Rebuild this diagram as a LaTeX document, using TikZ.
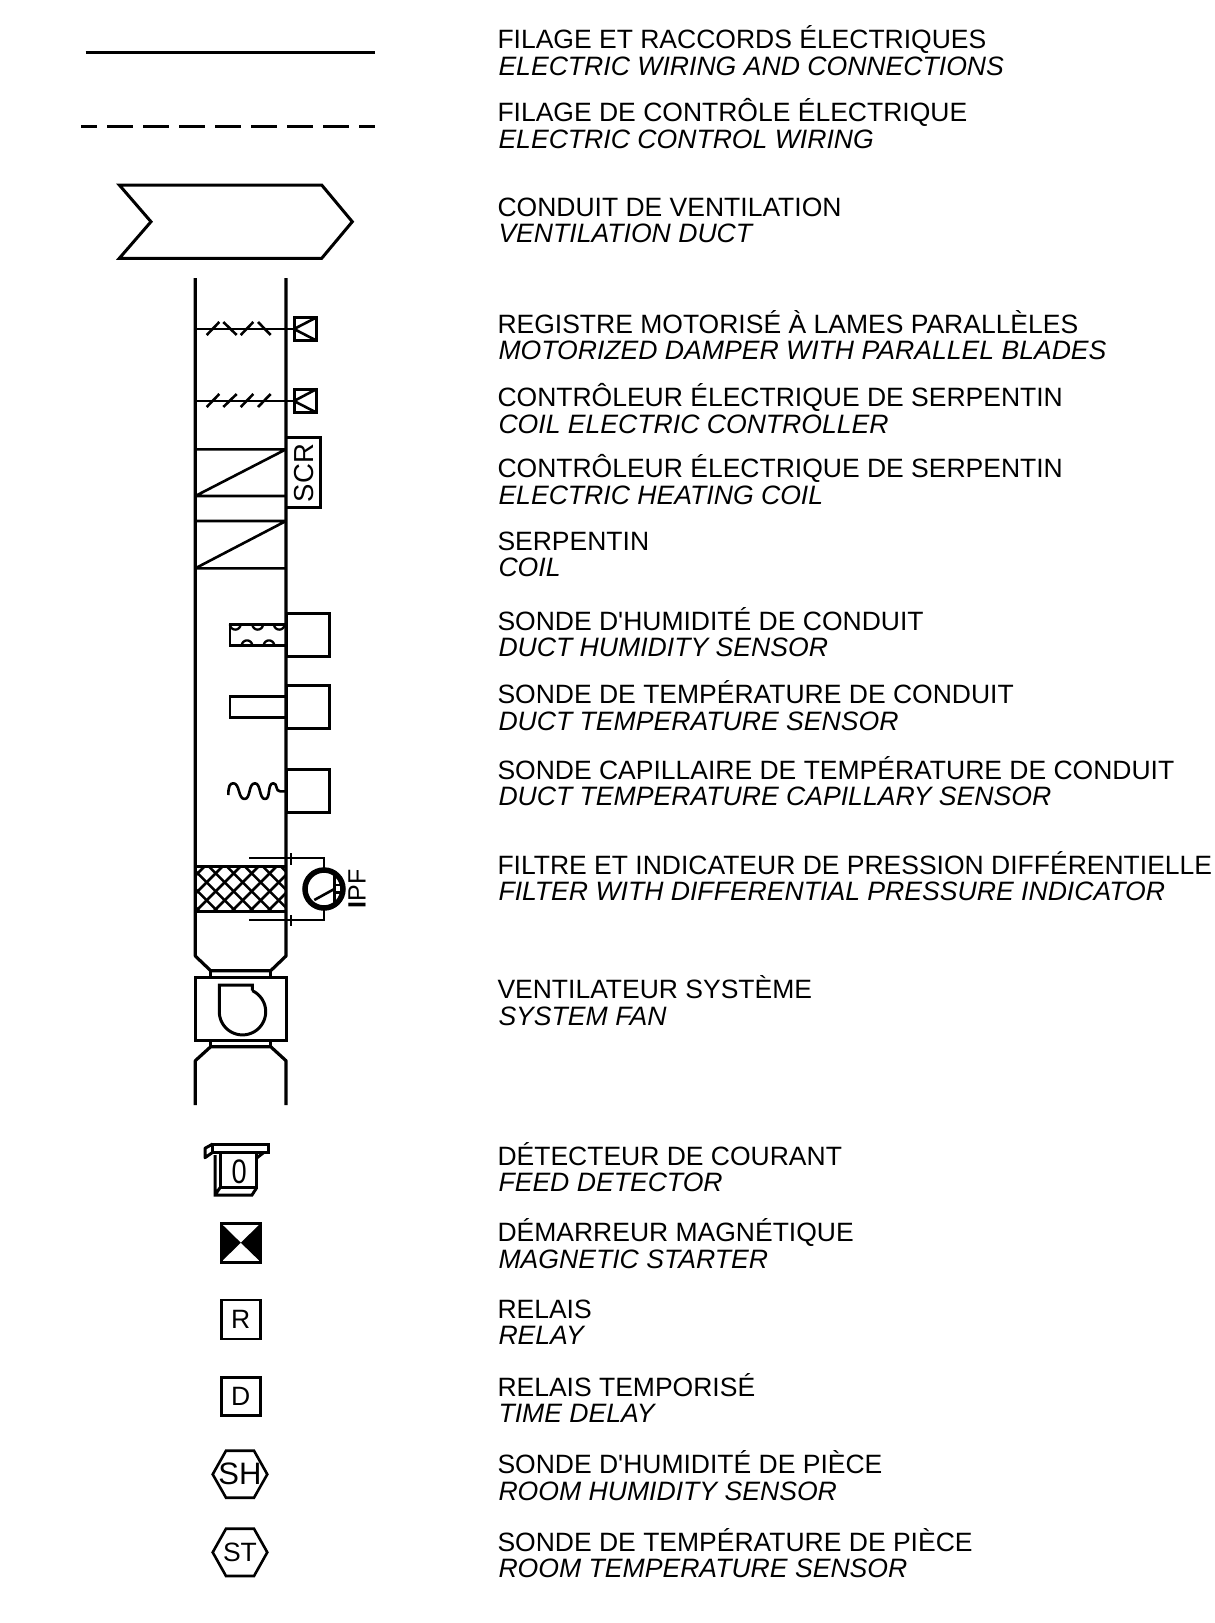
\documentclass[tikz,border=0pt]{standalone}
\usepackage{fontspec}
\setmainfont[Ligatures=TeXOff]{Liberation Sans}
\tikzset{
  sym/.style={line width=3pt,line join=miter,line cap=butt},
  thin sym/.style={line width=2.6pt,line join=miter},
  wall/.style={line width=3.2pt,line join=round},
  lab/.style={anchor=base west,inner sep=0pt,outer sep=0pt,font=\fontsize{26.5}{27}\selectfont},
  ilab/.style={lab,font=\fontsize{26.6}{27}\selectfont\itshape},
  symtext/.style={inner sep=0pt,outer sep=0pt,font=\fontsize{26.5}{28}\selectfont},
}
\newcommand{\legend}[4]{%
  \node[lab] (#1a) at (497.5,#2+0.3) {#3};
  \node[ilab] (#1b) at (498.5,#2+26.8) {#4};}
\begin{document}
\begin{tikzpicture}[x=1pt,y=-1pt]
\useasboundingbox[fill=white] (0,0) rectangle (1215,1623);
% legend texts
\legend{t1}{48.3}{FILAGE ET RACCORDS ÉLECTRIQUES}{ELECTRIC WIRING AND CONNECTIONS}
\legend{t2}{121.6}{FILAGE DE CONTRÔLE ÉLECTRIQUE}{ELECTRIC CONTROL WIRING}
\legend{t3}{215.8}{CONDUIT DE VENTILATION}{VENTILATION DUCT}
\legend{t4}{332.8}{REGISTRE MOTORISÉ À LAMES PARALLÈLES}{MOTORIZED DAMPER WITH PARALLEL BLADES}
\legend{t5}{406.2}{CONTRÔLEUR ÉLECTRIQUE DE SERPENTIN}{COIL ELECTRIC CONTROLLER}
\legend{t6}{477.6}{CONTRÔLEUR ÉLECTRIQUE DE SERPENTIN}{ELECTRIC HEATING COIL}
\legend{t7}{550.1}{SERPENTIN}{COIL}
\legend{t8}{629.8}{SONDE D'HUMIDITÉ DE CONDUIT}{DUCT HUMIDITY SENSOR}
\legend{t9}{703.3}{SONDE DE TEMPÉRATURE DE CONDUIT}{DUCT TEMPERATURE SENSOR}
\legend{t10}{778.8}{SONDE CAPILLAIRE DE TEMPÉRATURE DE CONDUIT}{DUCT TEMPERATURE CAPILLARY SENSOR}
\legend{t11}{874}{FILTRE ET INDICATEUR DE PRESSION DIFFÉRENTIELLE}{FILTER WITH DIFFERENTIAL PRESSURE INDICATOR}
\legend{t12}{998.2}{VENTILATEUR SYSTÈME}{SYSTEM FAN}
\legend{t13}{1164.9}{DÉTECTEUR DE COURANT}{FEED DETECTOR}
\legend{t14}{1241.4}{DÉMARREUR MAGNÉTIQUE}{MAGNETIC STARTER}
\legend{t15}{1318}{RELAIS}{RELAY}
\legend{t16}{1395.7}{RELAIS TEMPORISÉ}{TIME DELAY}
\legend{t17}{1473.3}{SONDE D'HUMIDITÉ DE PIÈCE}{ROOM HUMIDITY SENSOR}
\legend{t18}{1551}{SONDE DE TEMPÉRATURE DE PIÈCE}{ROOM TEMPERATURE SENSOR}
% wiring
\draw[sym] (85.7,52.7) -- (375,52.7);
\draw[sym,dash pattern=on 26pt off 10pt,dash phase=10pt] (81,126.3) -- (375,126.3);
% duct
\draw[sym] (119.3,185) -- (321.7,185) -- (352.3,221.7) -- (321.7,258.3) -- (119.3,258.3) -- (151,221.7) -- cycle;
% duct walls
\draw[wall] (195.3,278) -- (195.3,956) -- (210.7,970.7) -- (270.7,970.7) -- (286,956) -- (286,278);
\draw[wall] (210.7,970.7) -- (210.7,977.3) (270.7,970.7) -- (270.7,977.3);
\draw[wall] (210.7,1040) -- (210.7,1046.7) (270.7,1040) -- (270.7,1046.7);
\draw[wall] (195.3,1105) -- (195.3,1060.7) -- (210.7,1046.7) -- (270.7,1046.7) -- (286,1060.7) -- (286,1105);
% damper 1
\draw[thin sym] (195.3,329) -- (294,329);
\draw[thin sym] (206.7,335) -- (219.3,322) (223.3,322) -- (236.7,335) (240.7,335) -- (253.3,322) (258,322) -- (270.7,335);
\draw[sym] (294,317.3) rectangle (316.7,340.7);
\draw[thin sym] (316.7,317.3) -- (294,329) -- (316.7,340.7);
% damper 2
\draw[thin sym] (195.3,401) -- (294,401);
\draw[thin sym] (206.7,407) -- (219.3,394) (223.3,407) -- (236.7,394) (240.7,407) -- (253.3,394) (258,407) -- (270.7,394);
\draw[sym] (294,389) rectangle (316.7,412.7);
\draw[thin sym] (316.7,389) -- (294,401) -- (316.7,412.7);
% coils
\draw[thin sym] (195.3,449.3) -- (286,449.3) (195.3,496) -- (286,496) (195.3,496) -- (286,449.3);
\draw[thin sym] (195.3,521) -- (286,521) (195.3,568.3) -- (286,568.3) (195.3,568.3) -- (286,521);
\draw[thin sym] (286,437.7) rectangle (320.7,507.7);
\node[symtext,rotate=90,font=\fontsize{27.5}{29}\selectfont] (scr) at (304,473) {SCR};
% humidity sensor
\draw[thin sym] (286,624.3) -- (230,624.3) -- (230,645.7) -- (286,645.7);
\foreach \cx in {235.3,257.7,279.3}
  \draw[line width=2.3pt] plot[domain=0:180,samples=13,smooth] ({\cx+5.3*cos(\x)},{624.3+5.3*sin(\x)});
\foreach \cx in {247,269}
  \draw[line width=2.3pt] plot[domain=0:180,samples=13,smooth] ({\cx+5.3*cos(\x)},{645.7-5.3*sin(\x)});
\draw[sym] (286.7,613.3) rectangle (329,656.7);
% temperature sensor
\draw[thin sym] (286,696.7) -- (230,696.7) -- (230,717.3) -- (286,717.3);
\draw[sym] (286.7,685.7) rectangle (329,728.3);
% capillary sensor
\draw[thin sym,line join=round] (228.3,795) .. controls (228.3,786) and (230,783.3) .. (233.3,783.3)
  .. controls (240,783.3) and (238,799) .. (244.5,799)
  .. controls (251,799) and (248,783.3) .. (255,783.3)
  .. controls (261,783.3) and (259,799) .. (265,799)
  .. controls (271,799) and (267,783.3) .. (273.3,783.3)
  .. controls (278,783.3) and (275,791.3) .. (280,791.3) -- (286,791.3);
\draw[sym] (286.7,769.3) rectangle (329,812.3);
% filter
\begin{scope}
  \clip (195.3,866) rectangle (286,911.7);
  \foreach \i in {-4,...,8} {
    \draw[line width=2.5pt] (190.4+18*\i,866) -- ++(46,46);
    \draw[line width=2.5pt] (205+18*\i,866) -- ++(-46,46);
  }
\end{scope}
\draw[sym] (195.3,866) -- (286,866) (195.3,911.7) -- (286,911.7);
% differential pressure indicator
\draw[thin sym] (249.3,858) -- (324,858) -- (324,870);
\draw[thin sym] (249.3,920) -- (324,920) -- (324,908);
\draw[thin sym] (291,853) -- (291,864.5) (291,915) -- (291,926);
\draw[line width=5.5pt] (324,889) circle[radius=19pt];
\draw[thin sym] (334.3,872) -- (334.3,906);
\draw[thin sym] (334.3,885) -- (342,885) (334.3,892.7) -- (342,892.7);
\draw[thin sym] (314.3,900) -- (334.3,889);
\node[symtext,rotate=90,font=\fontsize{25}{27}\selectfont] (ipf) at (357,889) {{\bfseries I}PF};
% fan
\draw[sym] (195,977.3) rectangle (286.7,1040);
\draw[sym] plot[domain=65:-180,samples=50,smooth] ({242.5+23.2*cos(\x)},{1011.7-23.2*sin(\x)}) -- (219.3,985) -- (252.3,985) -- (252.3,990.7);
% feed detector
\draw[sym] (212.7,1144) rectangle (268.3,1152.3);
\draw[sym,line join=round] (212.7,1144) -- (205,1148.3) -- (205,1157.7) -- (212.7,1152.3);
\draw[sym] (220,1152.3) -- (220,1187.7) -- (256.7,1187.7) -- (256.7,1152.3);
\draw[sym] (215,1155) -- (215,1195) -- (252,1195) -- (256.7,1187.7) (215,1195) -- (220,1187.7) (256.7,1158) -- (264,1152.3);
\node[symtext,font=\fontsize{34}{36}\selectfont,xscale=.8] (zero) at (239.3,1171.7) {0};
% magnetic starter
\draw[sym,fill=white] (221,1223.3) rectangle (260.7,1262);
\fill[black] (221,1223.3) -- (240.8,1242.7) -- (221,1262) -- cycle (260.7,1223.3) -- (240.8,1242.7) -- (260.7,1262) -- cycle;
% relays
\node[draw,line width=2.6pt,minimum width=39pt,minimum height=39pt,inner sep=0pt,font=\fontsize{26.5}{28}\selectfont] (relay) at (240.8,1319.5) {R};
\node[draw,line width=2.6pt,minimum width=39pt,minimum height=38.5pt,inner sep=0pt,font=\fontsize{26.5}{28}\selectfont] (delay) at (240.8,1396.5) {D};
% room sensors
\draw[thin sym] (212.7,1474.3) -- (226,1450.7) -- (254,1450.7) -- (267.3,1474.3) -- (254,1497.7) -- (226,1497.7) -- cycle;
\node[symtext,font=\fontsize{31}{33}\selectfont] (sh) at (240,1474.3) {SH};
\draw[thin sym] (212.7,1552.3) -- (226,1528.7) -- (254,1528.7) -- (267.3,1552.3) -- (254,1576) -- (226,1576) -- cycle;
\node[symtext,font=\fontsize{26.5}{28}\selectfont] (st) at (240,1552.3) {ST};
\end{tikzpicture}
\end{document}
